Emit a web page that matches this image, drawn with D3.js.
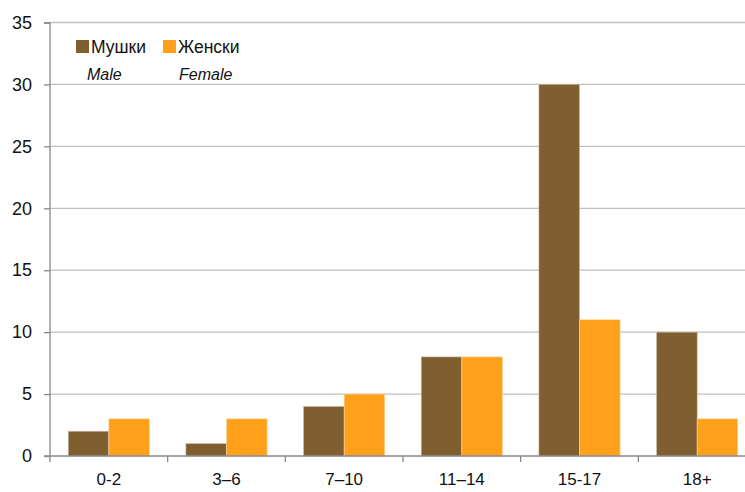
<!DOCTYPE html>
<html>
<head>
<meta charset="utf-8">
<script src="https://cdn.jsdelivr.net/npm/d3@7"></script>
<style>
  body { margin: 0; background: #fff; }
  svg { font-family: "Liberation Sans", Arial, sans-serif; }
</style>
</head>
<body>
<div class="chart"></div>
<script>
// data
const categories = ["0-2", "3\u20136", "7\u201310", "11\u201314", "15-17", "18+"];
const male = [2, 1, 4, 8, 30, 10];
const female = [3, 3, 5, 8, 11, 3];
const yTicks = [0, 5, 10, 15, 20, 25, 30, 35];
const seriesNames = ["Мушки", "Женски"];
const seriesNamesEn = ["Male", "Female"];

const colors = ["#7f5f2f", "#ffa01a"];

const margin = {top: 22.5, left: 50, right: -11, bottom: 36};
const W = 745, H = 492;
const width = W - margin.left - margin.right;
const height = H - margin.top - margin.bottom;

const svg = d3.select(".chart").append("svg")
    .attr("width", W)
    .attr("height", H)
    .append("g")
    .attr("transform", "translate(" + margin.left + "," + margin.top + ")");

const xScale = d3.scaleBand()
    .domain(categories)
    .range([0, width])
    .paddingInner(0.31)
    .paddingOuter(0.155);

const xSub = d3.scaleBand()
    .domain([0, 1])
    .range([0, xScale.bandwidth()]);

const yScale = d3.scaleLinear()
    .domain([0, 35])
    .range([height, 0]);

// gridlines
svg.append("g")
    .selectAll("line")
    .data(yTicks.filter(d => d > 0))
    .join("line")
    .attr("x1", 0)
    .attr("x2", width)
    .attr("y1", d => yScale(d))
    .attr("y2", d => yScale(d))
    .attr("stroke", "#bebebe")
    .attr("stroke-width", 1.3);

// bars
const groups = svg.append("g")
    .selectAll("g")
    .data(categories)
    .join("g")
    .attr("transform", d => `translate(${xScale(d)},0)`);

groups.selectAll("rect")
    .data((d, i) => [male[i], female[i]])
    .join("rect")
    .attr("x", (d, j) => xSub(j))
    .attr("width", xSub.bandwidth())
    .attr("y", d => yScale(d))
    .attr("height", d => height - yScale(d))
    .attr("fill", (d, j) => colors[j])
    .attr("stroke", (d, j) => j == 0 ? "#c9bca6" : "#ffd9a3")
    .attr("stroke-width", 0.6);

// axes
const yAxis = d3.axisLeft(yScale)
    .tickValues(yTicks)
    .tickSize(6)
    .tickPadding(12);

const yG = svg.append("g").attr("class", "axis y-axis").call(yAxis);
yG.select(".domain").attr("stroke", "#888").attr("stroke-width", 1.3).attr("d", `M-6,0.5H0V${height}`);
yG.selectAll(".tick line").attr("stroke", "#888").attr("stroke-width", 1.3);
yG.selectAll(".tick text").attr("font-size", 18).attr("fill", "#111").attr("font-family", "Liberation Sans, Arial, sans-serif");

// x axis with tick marks at category boundaries
const step = xScale.step();
const xG = svg.append("g").attr("transform", `translate(0,${height})`);
xG.append("line")
    .attr("x1", -6).attr("x2", width)
    .attr("stroke", "#888").attr("stroke-width", 1.3);
xG.selectAll(".bt")
    .data(d3.range(categories.length + 1))
    .join("line")
    .attr("class", "bt")
    .attr("x1", i => i * step)
    .attr("x2", i => i * step)
    .attr("y1", 0).attr("y2", 6)
    .attr("stroke", "#888").attr("stroke-width", 1.3);
xG.selectAll("text")
    .data(categories)
    .join("text")
    .attr("x", d => xScale(d) + xScale.bandwidth() / 2)
    .attr("y", 29)
    .attr("text-anchor", "middle")
    .attr("font-size", 17)
    .attr("fill", "#111")
    .text(d => d);

// legend
const legend = svg.append("g");
const legX = [26, 113];
seriesNames.forEach((name, i) => {
    legend.append("rect")
        .attr("x", legX[i])
        .attr("y", 17.5)
        .attr("width", 13)
        .attr("height", 13)
        .attr("fill", colors[i]);
    legend.append("text")
        .attr("x", legX[i] + 15)
        .attr("y", 30)
        .attr("font-size", 17.5)
        .attr("fill", "#111")
        .text(name);
    legend.append("text")
        .attr("x", legX[i] + 11 + i * 5)
        .attr("y", 57.5)
        .attr("font-size", 16)
        .attr("font-style", "italic")
        .attr("fill", "#111")
        .text(seriesNamesEn[i]);
});
</script>
</body>
</html>
